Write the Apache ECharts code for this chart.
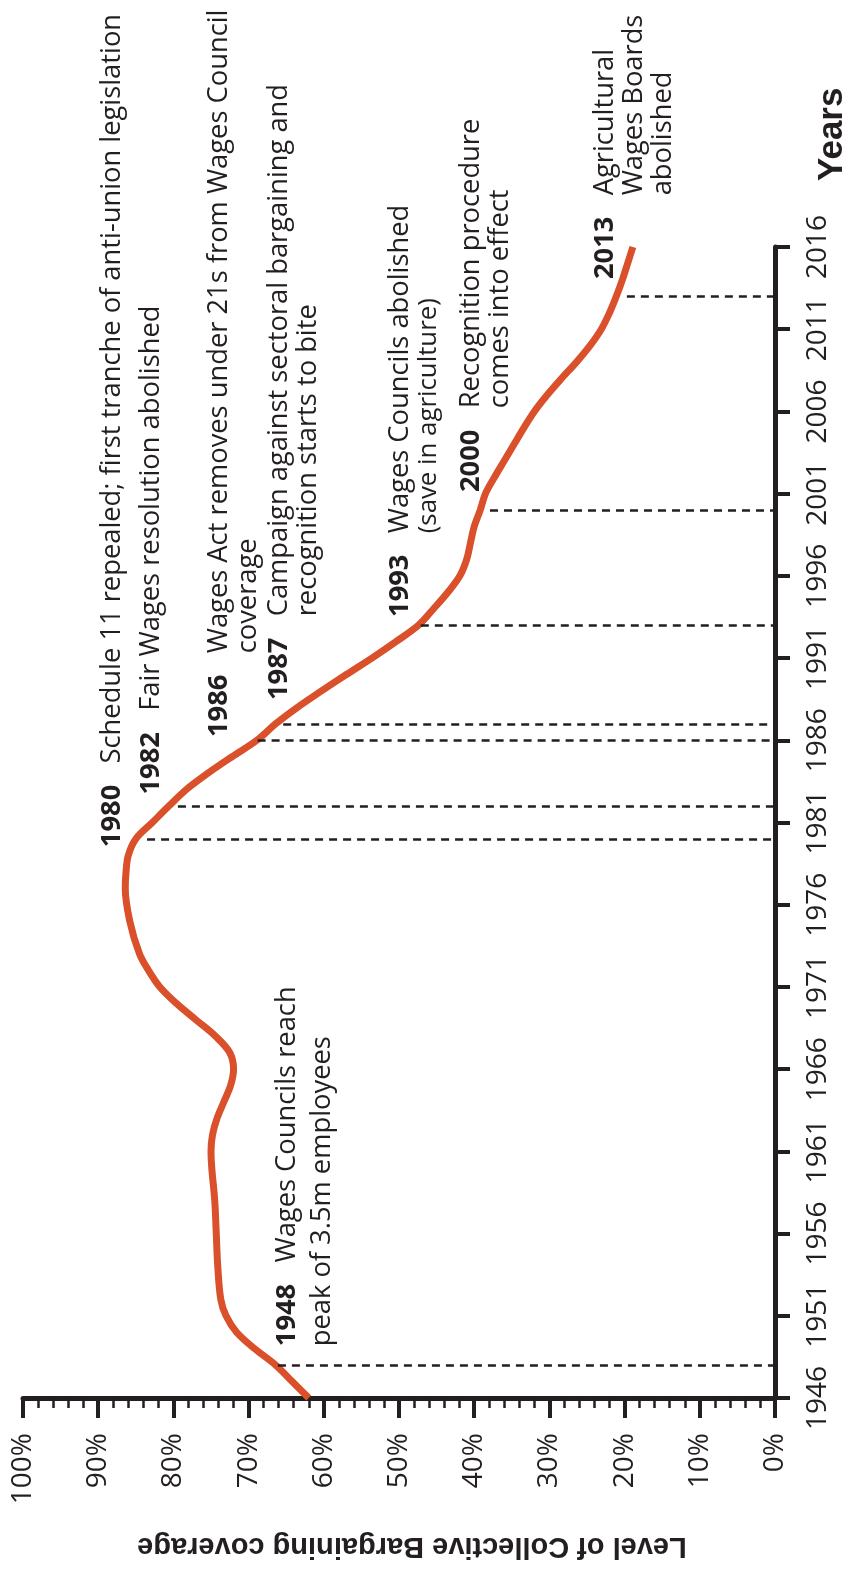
<!DOCTYPE html>
<html><head><meta charset="utf-8">
<script src="https://cdn.jsdelivr.net/npm/echarts@6/dist/echarts.min.js"></script>
<style>html,body{margin:0;padding:0;background:#fff}#c{width:863px;height:1580px}</style>
</head><body><div id="c"></div>
<script>
// ---- data ----
const years = [1946,1947,1948,1949,1950,1951,1952,1954,1956,1958,1960,1961,1962,1963,1964,1965,1966,1967,1968,1969,1970,1971,1972,1973,1975,1977,1978,1979,1980,1981,1982,1983,1984,1985,1986,1987,1988,1989,1990,1991,1992,1993,1994,1995,1996,1997,1998,1999,2000,2001,2002,2003,2004,2005,2006,2007,2008,2009,2010,2011,2012,2013,2014,2015,2016];
const coverage = [62.0,64.2,66.4,69.2,71.6,73.0,73.7,74.1,74.3,74.5,74.9,75.0,74.8,74.2,73.3,72.4,72.0,72.5,74.4,77.0,79.6,81.8,83.3,84.5,85.8,86.4,86.3,86.0,85.0,82.8,80.6,78.3,75.4,72.2,68.9,66.4,63.5,60.3,57.0,53.6,50.4,47.4,45.4,43.5,41.9,41.0,40.5,40.0,39.2,38.5,37.3,36.0,34.7,33.4,32.0,30.3,28.4,26.4,24.6,23.1,22.0,21.1,20.3,19.6,18.9];
const yearTicks = [1946,1951,1956,1961,1966,1971,1976,1981,1986,1991,1996,2001,2006,2011,2016];
const eventYears = [1948,1980,1982,1986,1987,1993,2000,2013];
const eventLineEnd = [66.1,83.5,79.4,68.8,65.4,47.1,37.9,19.7];
const eventLabelAt = [[67.2,1949.15],[90.0,1979.5],[84.9,1982.7],[75.9,1986.2],[67.9,1988.45],[51.8,1993.5],[42.3,2001.1],[24.5,2014.05]];
const eventLines = [
  ["Wages Councils reach","peak of 3.5m employees"],
  ["Schedule 11 repealed; first tranche of anti-union legislation"],
  ["Fair Wages resolution abolished"],
  ["Wages Act removes under 21s from Wages Council","coverage"],
  ["Campaign against sectoral bargaining and","recognition starts to bite"],
  ["Wages Councils abolished","(save in agriculture)"],
  ["Recognition procedure","comes into effect"],
  ["Agricultural","Wages Boards","abolished"]
];
const eventIndent = [false,true,true,true,true,true,true,true];
const xTitle = "Level of Collective Bargaining coverage";
const yTitle = "Years";

const FONT = "'Open Sans', 'Noto Sans', sans-serif";
const TITLE_FONT = "'Liberation Sans', Arial, sans-serif";
const INK = '#231f20';
const ANN = 27.3;

const chart = echarts.init(document.getElementById('c'), null, {renderer: 'canvas'});
const option = {
  animation: false,
  backgroundColor: '#fff',
  grid: {left: 23, right: 88, top: 247, bottom: 182, containLabel: false, outerBoundsMode: 'none'},
  xAxis: {
    type: 'value', min: 0, max: 100, interval: 10, inverse: true, position: 'bottom',
    name: xTitle, nameLocation: 'middle', nameRotate: 180, nameGap: 133,
    nameTextStyle: {fontFamily: TITLE_FONT, fontWeight: 'bold', fontSize: 29, color: INK, padding: [0, 26, 0, 0]},
    axisLine: {show: true, lineStyle: {color: INK, width: 5}},
    axisTick: {show: true, inside: false, length: 20, lineStyle: {color: INK, width: 4}},
    minorTick: {show: true, splitNumber: 5, length: 10, lineStyle: {color: INK, width: 2.5}},
    axisLabel: {rotate: 90, margin: 35, fontFamily: FONT, fontSize: 28, color: INK, formatter: '{value}%'},
    splitLine: {show: false}, minorSplitLine: {show: false}
  },
  yAxis: {
    type: 'value', min: 1946, max: 2016, position: 'right',
    axisLine: {show: true, lineStyle: {color: INK, width: 5}},
    axisTick: {show: true, inside: false, length: 15, customValues: yearTicks, lineStyle: {color: INK, width: 4}},
    axisLabel: {rotate: 90, margin: 29, fontFamily: FONT, fontSize: 28, color: INK, customValues: yearTicks, formatter: v => String(v)},
    splitLine: {show: false}
  },
  series: [
    {
      type: 'line', name: 'events', data: [], z: 1, silent: true,
      markLine: {
        silent: true, symbol: ['none', 'none'], animation: false,
        label: {show: false},
        lineStyle: {color: INK, width: 2.5, type: [8, 6]},
        emphasis: {disabled: true},
        data: eventYears.map((y, i) => [{coord: [eventLineEnd[i], y]}, {coord: [0, y]}])
      }
    },
    {
      type: 'line', name: 'Collective bargaining coverage', z: 3,
      data: years.map((y, i) => [coverage[i], y]),
      smooth: 0.35, showSymbol: false, symbol: 'none',
      lineStyle: {color: '#d9502b', width: 7, cap: 'butt', join: 'round'}
    }
  ]
};
chart.setOption(option);

const rich = {
  y: {fontFamily: FONT, fontWeight: 'bold', fontSize: ANN, fill: INK},
  h: {fontFamily: FONT, fontWeight: 'bold', fontSize: ANN, fill: 'rgba(0,0,0,0)'},
  t: {fontFamily: FONT, fontSize: ANN, fill: INK},
  s: {fontFamily: FONT, fontSize: ANN - 1.5, fill: INK}
};
const graphics = eventYears.map((yr, i) => {
  const lh = i === 0 ? 35 : 29;
  const rr = {};
  Object.keys(rich).forEach(k => { rr[k] = Object.assign({lineHeight: lh}, rich[k]); });
  const lines = eventLines[i].map((ln, j) => {
    const st = (ln.charAt(0) === '(') ? 's' : 't';
    if (j === 0) return '{y|' + yr + '}{t|   ' + ln + '}';
    return eventIndent[i] ? '{h|' + yr + '}{t|   }{' + st + '|' + ln + '}' : '{' + st + '|' + ln + '}';
  });
  const p = chart.convertToPixel({gridIndex: 0}, eventLabelAt[i]);
  return {
    type: 'text', x: p[0], y: p[1], rotation: Math.PI / 2, z: 10, silent: true,
    style: {text: lines.join('\n'), rich: rr, align: 'left', verticalAlign: 'top', font: ANN + 'px ' + FONT, fill: INK, lineHeight: lh}
  };
});
// axis title for the year axis, placed just beyond the top end of the axis
const axisEnd = chart.convertToPixel({gridIndex: 0}, [0, 2016]);
graphics.push({
  type: 'text', x: axisEnd[0] + 40, y: axisEnd[1] - 66, rotation: Math.PI / 2, z: 10, silent: true,
  style: {text: yTitle, font: 'bold 35px ' + TITLE_FONT, fill: INK, align: 'left', verticalAlign: 'top'}
});
chart.setOption({graphic: graphics});
</script></body></html>
